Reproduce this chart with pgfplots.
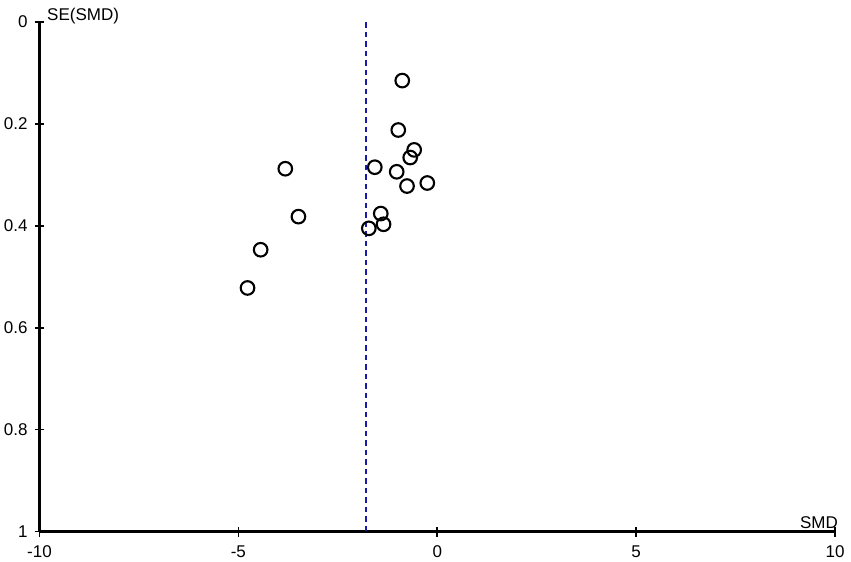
\documentclass[border=0pt]{standalone}
\usepackage{pgfplots}
\pgfplotsset{compat=1.18}
\usepackage{fontspec}
\setmainfont{Liberation Sans}
\definecolor{dashblue}{RGB}{25,25,170}
\begin{document}
\fontsize{17bp}{20bp}\selectfont
\begin{tikzpicture}
\begin{axis}[
  name=ax, at={(0,0)}, anchor=south west,
  scale only axis, width=795.5bp, height=509.5bp,
  xmin=-10, xmax=10, ymin=0, ymax=1, y dir=reverse,
  axis lines=left,
  axis line style={-, line width=2.2bp, black},
  xtick={-10,-5,0,5,10},
  ytick={0,0.2,0.4,0.6,0.8,1},
  major tick length=10bp, tick align=center,
  tick style={line width=1.6bp, black},
  /pgf/number format/assume math mode=true,
  ticklabel style={font=\fontsize{17bp}{20bp}\selectfont},
  xticklabel style={inner ysep=1bp, yshift=-8bp},
  yticklabel style={inner xsep=1bp, xshift=-5.7bp},
  clip=false,
]
\addplot[dashblue, line width=2.4bp, dash pattern=on 5.5bp off 4bp] coordinates {(-1.79,0) (-1.79,1)};
\addplot[only marks, mark=o, mark size=6.8bp, mark options={line width=2.1bp, black}] coordinates {
(-0.88,0.115)
(-0.98,0.212)
(-0.58,0.251)
(-0.68,0.266)
(-1.57,0.285)
(-3.82,0.288)
(-1.02,0.294)
(-0.25,0.316)
(-0.76,0.322)
(-3.49,0.382)
(-1.42,0.376)
(-1.35,0.397)
(-1.72,0.405)
(-4.44,0.447)
(-4.77,0.522)
};
\node[anchor=base west, inner sep=0pt, xshift=7.5bp, yshift=1.3bp] at (axis cs:-10,0) {SE(SMD)};
\node[anchor=base east, inner sep=0pt, xshift=3bp, yshift=3bp] at (axis cs:10,1) {SMD};
\path (axis cs:-10,1) ++(-39.5bp,-30.5bp) rectangle ++(851bp,562bp);
\end{axis}
\end{tikzpicture}
\end{document}
